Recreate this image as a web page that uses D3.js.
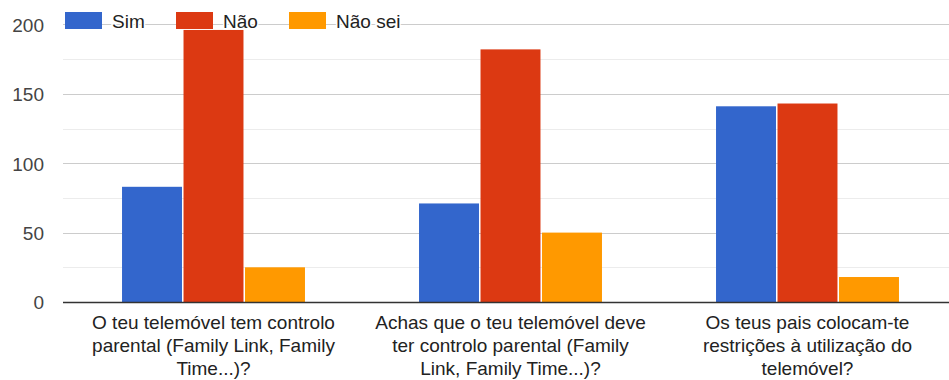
<!DOCTYPE html>
<html>
<head>
<meta charset="utf-8">
<script src="https://cdn.jsdelivr.net/npm/d3@7"></script>
<style>
  html, body { margin: 0; padding: 0; background: #fff; }
  svg { display: block; font-family: "Liberation Sans", Arial, sans-serif; }
</style>
</head>
<body>
<svg id="chart" width="949" height="380"></svg>
<script>
const categories = [
  ["O teu telemóvel tem controlo", "parental (Family Link, Family", "Time...)?"],
  ["Achas que o teu telemóvel deve", "ter controlo parental (Family", "Link, Family Time...)?"],
  ["Os teus pais colocam-te", "restrições à utilização do", "telemóvel?"]
];
const seriesNames = ["Sim", "Não", "Não sei"];
const simValues = [83, 71, 141];
const naoValues = [196, 182, 143];
const naoSeiValues = [25, 50, 18];
const yTicks = [0, 50, 100, 150, 200];
const yMinorTicks = [25, 75, 125, 175];
const colors = ["#3366cc", "#dc3912", "#ff9900"];

const seriesValues = [simValues, naoValues, naoSeiValues];
const svg = d3.select("#chart");

const plotLeft = 63, plotRight = 949;
const y = d3.scaleLinear().domain([0, 200]).range([302, 24.4]);
const x0 = d3.scaleBand().domain(d3.range(categories.length))
  .range([65, 956]).paddingInner(0.384).paddingOuter(0.192);
const x1 = d3.scaleBand().domain(d3.range(seriesNames.length))
  .range([0, x0.bandwidth()]).paddingInner(0.025);

// minor gridlines
svg.append("g").selectAll("line").data(yMinorTicks).join("line")
  .attr("x1", plotLeft).attr("x2", plotRight)
  .attr("y1", d => Math.round(y(d)) + 0.5).attr("y2", d => Math.round(y(d)) + 0.5)
  .attr("stroke", "#ececec").attr("stroke-width", 1);
// major gridlines
svg.append("g").selectAll("line").data(yTicks.filter(d => d > 0)).join("line")
  .attr("x1", plotLeft).attr("x2", plotRight)
  .attr("y1", d => Math.round(y(d)) + 0.5).attr("y2", d => Math.round(y(d)) + 0.5)
  .attr("stroke", "#cccccc").attr("stroke-width", 1);

// bars
const groups = svg.append("g").selectAll("g").data(categories.map((c, i) => i)).join("g")
  .attr("transform", i => `translate(${x0(i)},0)`);
groups.selectAll("rect").data(i => seriesValues.map((vals, s) => ({ s, v: vals[i] }))).join("rect")
  .attr("x", d => x1(d.s)).attr("width", x1.bandwidth())
  .attr("y", d => y(d.v)).attr("height", d => y(0) - y(d.v))
  .attr("fill", d => colors[d.s]);

// baseline
svg.append("line").attr("x1", plotLeft).attr("x2", plotRight)
  .attr("y1", y(0) + 0.5).attr("y2", y(0) + 0.5)
  .attr("stroke", "#333").attr("stroke-width", 1.5);

// y axis labels
const yAxis = d3.axisLeft(y).tickValues(yTicks).tickSize(0).tickPadding(0);
const ya = svg.append("g").attr("transform", "translate(44,0)").call(yAxis);
ya.select(".domain").remove();
ya.selectAll("text").attr("font-size", 19).attr("fill", "#444")
  .attr("font-family", "'Liberation Sans', Arial, sans-serif")
  .attr("dy", "0.36em");

// x labels
const xl = svg.append("g");
categories.forEach((lines, i) => {
  const cx = x0(i) + x0.bandwidth() / 2;
  const t = xl.append("text").attr("text-anchor", "middle")
    .attr("font-size", 19).attr("fill", "#222");
  lines.forEach((ln, j) => {
    t.append("tspan").attr("x", cx).attr("y", 329 + j * 23).text(ln);
  });
});

// legend
const legendX = [65, 176, 289];
const lg = svg.append("g");
seriesNames.forEach((name, i) => {
  lg.append("rect").attr("x", legendX[i]).attr("y", 12).attr("width", 37).attr("height", 17)
    .attr("fill", colors[i]);
  lg.append("text").attr("x", legendX[i] + 47).attr("y", 28)
    .attr("font-size", 19).attr("fill", "#222")
    .attr("stroke", "#fff").attr("stroke-width", 3).attr("paint-order", "stroke")
    .text(name);
});
</script>
</body>
</html>
